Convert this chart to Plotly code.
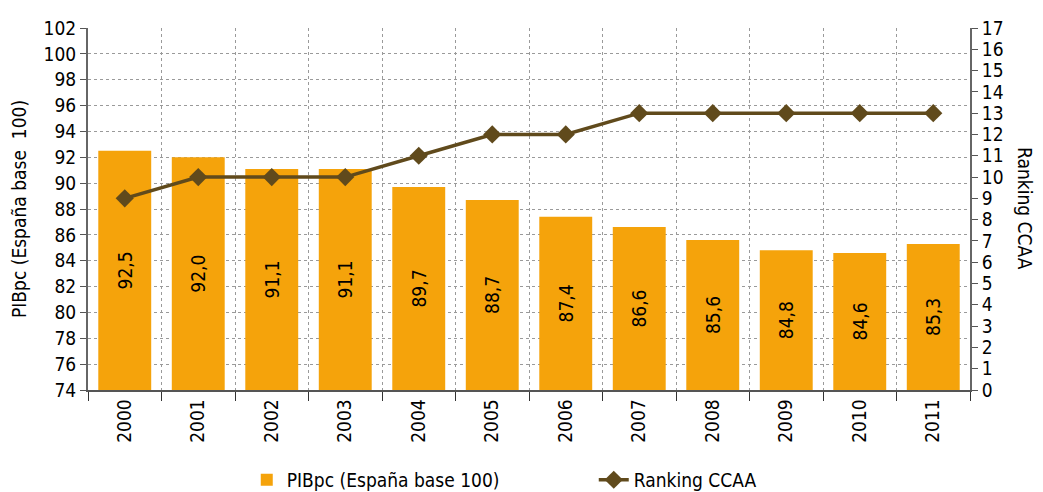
import plotly.graph_objects as go

# datos
years = ["2000", "2001", "2002", "2003", "2004", "2005",
         "2006", "2007", "2008", "2009", "2010", "2011"]
pib_pc = [92.5, 92.0, 91.1, 91.1, 89.7, 88.7, 87.4, 86.6, 85.6, 84.8, 84.6, 85.3]
ranking = [9, 10, 10, 10, 11, 12, 12, 13, 13, 13, 13, 13]

bar_color = "#F5A30B"
line_color = "#604A1C"
font_family = "DejaVu Sans Condensed, Noto Sans, sans-serif"
fs = 19

y_min = 74  # the bars start at the bottom of the axis, as in Excel
labels = [f"{v:.1f}".replace(".", ",") for v in pib_pc]

fig = go.Figure()

fig.add_trace(go.Bar(
    x=years, y=[v - y_min for v in pib_pc], base=y_min,
    name="PIBpc (España base 100)",
    marker=dict(color=bar_color, line=dict(width=0)),
    text=labels, textposition="inside", insidetextanchor="middle",
    textangle=-90, textfont=dict(color="black", size=fs, family=font_family),
    yaxis="y",
))

fig.add_trace(go.Scatter(
    x=years, y=ranking,
    name="Ranking CCAA",
    mode="lines+markers",
    line=dict(color=line_color, width=3.5),
    marker=dict(symbol="diamond", size=14, color=line_color),
    yaxis="y2",
))

grid = dict(showgrid=True, gridcolor="#9A9A9A", griddash="dot", gridwidth=1)

# the page adds an 8px body margin, so the figure is a bit smaller than the window
fig.update_layout(
    width=1035, height=484,
    margin=dict(l=80, r=73, t=20, b=102),
    plot_bgcolor="white", paper_bgcolor="white",
    font=dict(family=font_family, size=fs, color="black"),
    bargap=0.28,
    xaxis=dict(
        type="category", tickson="boundaries", tickangle=-90,
        range=[-0.5, len(years) - 0.5],
        ticks="outside", ticklen=9, tickcolor="#333",
        showline=True, linecolor="#555", linewidth=1.5,
        tickfont=dict(size=fs), automargin=False, **grid,
    ),
    yaxis=dict(
        range=[74, 102], dtick=2, ticks="outside", ticklen=6, tickcolor="#555",
        showline=True, linecolor="#666", linewidth=2, automargin=False,
        title=dict(text="PIBpc (España base  100)", font=dict(size=fs), standoff=14),
        **grid,
    ),
    yaxis2=dict(
        range=[0, 17], dtick=1, overlaying="y", side="right",
        ticks="outside", ticklen=6, tickcolor="#555", automargin=False,
        showline=True, linecolor="#666", linewidth=2, showgrid=False,
        tickfont=dict(size=fs),
    ),
    legend=dict(
        orientation="h", x=0.18, xanchor="left",
        yref="container", y=0.025, yanchor="middle",
        font=dict(size=fs), entrywidth=302, entrywidthmode="pixels",
    ),
    annotations=[dict(
        text="Ranking CCAA", textangle=90, xref="paper", yref="paper",
        x=1.077, y=0.5, showarrow=False, font=dict(size=fs),
    )],
)

fig.write_html("out.html")
